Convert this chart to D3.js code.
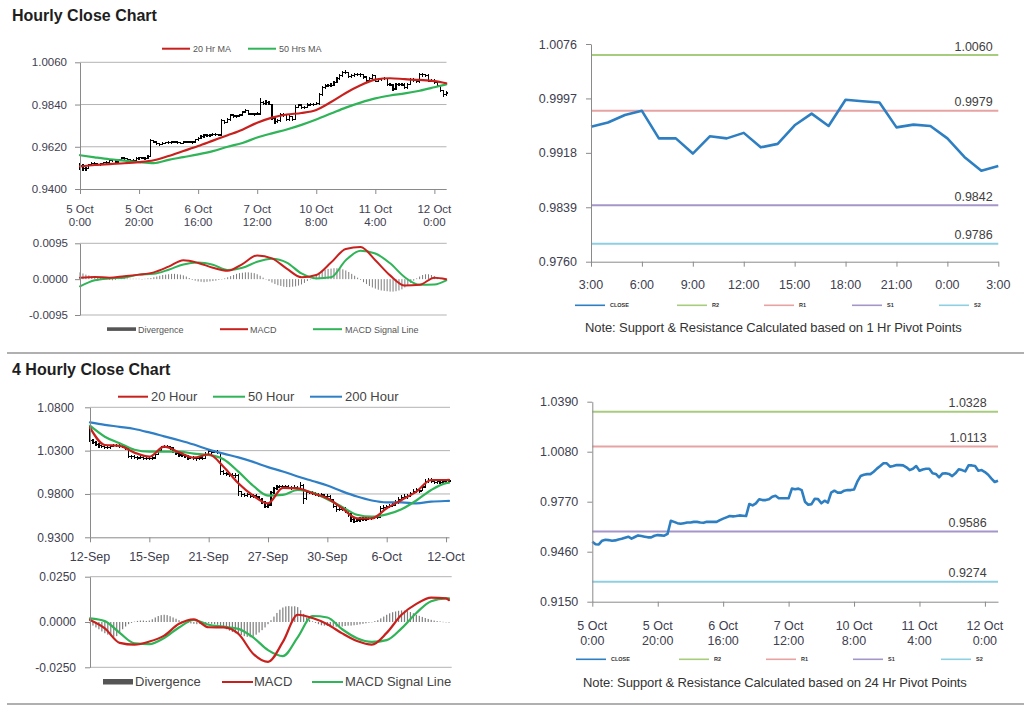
<!DOCTYPE html>
<html>
<head>
<meta charset="utf-8">
<title>Hourly Close Chart</title>
<script src="https://cdn.jsdelivr.net/npm/d3@7/dist/d3.min.js"></script>
<style>
html,body{margin:0;padding:0;background:#fff;}
svg{display:block;}
</style>
</head>
<body>
<svg id="chart" width="1024" height="706"></svg>
<script>
// ===================== DATA =====================
// Hourly chart (5 Oct 0:00 -> 12 Oct ~4:00), 125 hourly bars
const hourTickIdx = [0, 20, 40, 60, 80, 100, 120];
const hourTickDates = ["5 Oct", "5 Oct", "6 Oct", "7 Oct", "10 Oct", "11 Oct", "12 Oct"];
const hourTickTimes = ["0:00", "20:00", "16:00", "12:00", "8:00", "4:00", "0:00"];
const hourClose = [
 0.9522,0.9506,0.9505,0.9528,0.9534,0.9532,0.9528,0.9530,0.9536,0.9540,
 0.9547,0.9553,0.9541,0.9551,0.9561,0.9557,0.9553,0.9549,0.9549,0.9559,
 0.9563,0.9561,0.9559,0.9570,0.9652,0.9645,0.9637,0.9633,0.9637,0.9641,
 0.9641,0.9645,0.9645,0.9641,0.9639,0.9645,0.9645,0.9645,0.9645,0.9656,
 0.9665,0.9673,0.9681,0.9679,0.9681,0.9685,0.9683,0.9681,0.9756,0.9747,
 0.9760,0.9785,0.9780,0.9780,0.9785,0.9801,0.9807,0.9791,0.9791,0.9791,
 0.9791,0.9851,0.9847,0.9851,0.9842,0.9770,0.9751,0.9755,0.9788,0.9786,
 0.9760,0.9776,0.9764,0.9826,0.9838,0.9826,0.9826,0.9838,0.9842,0.9842,
 0.9846,0.9894,0.9929,0.9937,0.9941,0.9941,0.9956,0.9975,0.9991,1.0008,
 1.0008,0.9987,0.9991,0.9997,0.9997,0.9995,0.9983,0.9966,0.9974,0.9991,
 0.9962,0.9970,0.9974,0.9974,0.9946,0.9942,0.9921,0.9944,0.9946,0.9942,
 0.9929,0.9946,0.9971,0.9966,0.9958,0.9995,0.9995,0.9991,0.9962,0.9966,
 0.9954,0.9937,0.9913,0.9892,0.9900];
const hourHigh = [
 0.9535,0.9528,0.9515,0.9532,0.9540,0.9540,0.9538,0.9537,0.9542,0.9546,
 0.9552,0.9558,0.9557,0.9556,0.9566,0.9565,0.9560,0.9557,0.9555,0.9565,
 0.9568,0.9568,0.9565,0.9576,0.9660,0.9656,0.9648,0.9640,0.9643,0.9647,
 0.9648,0.9650,0.9652,0.9650,0.9646,0.9650,0.9652,0.9651,0.9652,0.9662,
 0.9672,0.9680,0.9688,0.9687,0.9688,0.9692,0.9690,0.9688,0.9765,0.9762,
 0.9768,0.9792,0.9790,0.9788,0.9792,0.9808,0.9815,0.9810,0.9798,0.9798,
 0.9800,0.9872,0.9860,0.9862,0.9858,0.9845,0.9780,0.9765,0.9798,0.9795,
 0.9790,0.9785,0.9782,0.9835,0.9845,0.9844,0.9834,0.9846,0.9850,0.9850,
 0.9854,0.9902,0.9936,0.9945,0.9948,0.9950,0.9964,0.9982,0.9998,1.0016,
 1.0018,1.0012,0.9998,1.0004,1.0005,1.0003,0.9998,0.9990,0.9982,0.9998,
 0.9995,0.9977,0.9980,0.9982,0.9980,0.9952,0.9948,0.9952,0.9954,0.9952,
 0.9950,0.9954,0.9980,0.9978,0.9970,1.0004,1.0004,1.0000,0.9998,0.9974,
 0.9972,0.9960,0.9942,0.9918,0.9908];
const hourLow = [
 0.9500,0.9495,0.9493,0.9502,0.9520,0.9522,0.9518,0.9520,0.9524,0.9530,
 0.9536,0.9542,0.9535,0.9538,0.9546,0.9550,0.9545,0.9542,0.9542,0.9545,
 0.9552,0.9554,0.9552,0.9555,0.9565,0.9638,0.9630,0.9626,0.9628,0.9632,
 0.9634,0.9636,0.9638,0.9635,0.9632,0.9635,0.9638,0.9638,0.9637,0.9642,
 0.9650,0.9660,0.9668,0.9672,0.9672,0.9675,0.9675,0.9674,0.9678,0.9740,
 0.9742,0.9755,0.9772,0.9772,0.9775,0.9780,0.9795,0.9785,0.9783,0.9782,
 0.9783,0.9788,0.9838,0.9840,0.9835,0.9762,0.9740,0.9745,0.9750,0.9776,
 0.9752,0.9755,0.9756,0.9760,0.9820,0.9818,0.9818,0.9820,0.9830,0.9834,
 0.9836,0.9840,0.9885,0.9922,0.9930,0.9932,0.9935,0.9950,0.9968,0.9985,
 0.9998,0.9980,0.9980,0.9985,0.9988,0.9986,0.9975,0.9958,0.9960,0.9968,
 0.9955,0.9956,0.9964,0.9966,0.9938,0.9934,0.9912,0.9916,0.9936,0.9934,
 0.9920,0.9922,0.9940,0.9958,0.9950,0.9952,0.9986,0.9984,0.9955,0.9955,
 0.9946,0.9930,0.9905,0.9878,0.9885];
// moving averages / MACD sampled at these bar indices
const hourSampleIdx = [0,5,10,15,20,25,30,35,40,45,50,55,60,65,70,75,80,85,90,95,100,105,110,115,120,124];
const hourMA20 = [0.9518,0.9525,0.9530,0.9534,0.9540,0.9550,0.9572,0.9598,0.9624,0.9652,0.9680,0.9709,0.9745,0.9772,0.9788,0.9796,0.9812,0.9853,0.9900,0.9940,0.9970,0.9977,0.9972,0.9968,0.9962,0.9951];
const hourMA50 = [0.9576,0.9565,0.9555,0.9548,0.9540,0.9535,0.9552,0.9566,0.9580,0.9597,0.9620,0.9640,0.9668,0.9690,0.9710,0.9734,0.9762,0.9793,0.9824,0.9850,0.9872,0.9887,0.9898,0.9912,0.9930,0.9945];
const hourMACD = [0.0004,0.0006,0.0004,0.0008,0.0012,0.0018,0.0033,0.0050,0.0043,0.0030,0.0022,0.0040,0.0063,0.0055,0.0028,0.0005,0.0011,0.0044,0.0080,0.0085,0.0050,0.0010,-0.0017,-0.0015,0.0004,0.0000];
const hourSignal = [-0.0019,-0.0003,0.0002,0.0004,0.0012,0.0014,0.0025,0.0039,0.0044,0.0038,0.0024,0.0030,0.0046,0.0054,0.0044,0.0015,0.0002,0.0005,0.0050,0.0075,0.0068,0.0042,0.0005,-0.0015,-0.0014,-0.0003];
const hourDivergence = [
 0.0018,0.0015,0.0012,0.0010,0.0008,0.0006,0.0005,0.0004,0.0003,0.0002,
 -0.0002,-0.0003,-0.0002,0.0001,0.0002,0.0002,0.0002,0.0001,0.0001,0.0001,
 0.0001,0.0000,0.0001,0.0002,0.0003,0.0005,0.0007,0.0009,0.0011,0.0012,
 0.0013,0.0014,0.0014,0.0013,0.0012,0.0010,0.0007,0.0003,-0.0002,-0.0004,
 -0.0006,-0.0007,-0.0008,-0.0007,-0.0006,-0.0005,-0.0004,-0.0002,0.0000,0.0002,
 0.0005,0.0008,0.0011,0.0014,0.0016,0.0017,0.0018,0.0018,0.0017,0.0016,
 0.0013,0.0009,0.0004,-0.0001,-0.0005,-0.0009,-0.0013,-0.0016,-0.0018,-0.0020,
 -0.0021,-0.0021,-0.0020,-0.0019,-0.0017,-0.0014,-0.0010,-0.0005,0.0000,0.0006,
 0.0012,0.0018,0.0022,0.0025,0.0027,0.0028,0.0029,0.0029,0.0028,0.0026,
 0.0023,0.0019,0.0014,0.0009,0.0004,-0.0002,-0.0008,-0.0013,-0.0018,-0.0022,
 -0.0025,-0.0028,-0.0030,-0.0031,-0.0032,-0.0033,-0.0033,-0.0032,-0.0030,-0.0027,
 -0.0022,-0.0016,-0.0010,-0.0004,0.0002,0.0007,0.0011,0.0013,0.0013,0.0011,
 0.0008,0.0005,0.0003,0.0001,0.0000];

// 1 Hr pivot chart (last 24 hours)
const pivot1Times = ["3:00","6:00","9:00","12:00","15:00","18:00","21:00","0:00","3:00"];
const pivot1Close = [0.9956,0.9962,0.9973,0.9979,0.9939,0.9939,0.9917,0.9942,0.9939,0.9947,0.9926,0.9931,0.9958,0.9975,0.9957,0.9995,0.9993,0.9991,0.9955,0.9959,0.9957,0.9939,0.9912,0.9892,0.9899];
const pivot1Ticks = [0.9760, 0.9839, 0.9918, 0.9997, 1.0076];
const levelNames = ["R2", "R1", "S1", "S2"];
const pivot1Levels = [1.0060, 0.9979, 0.9842, 0.9786];
const legendNames = ["CLOSE", "R2", "R1", "S1", "S2"];

// 4 Hourly chart (12 Sep -> 12 Oct), 122 bars
const fourTickIdx = [0, 20, 40, 60, 80, 100, 120];
const fourTickLabels = ["12-Sep", "15-Sep", "21-Sep", "27-Sep", "30-Sep", "6-Oct", "12-Oct"];
const fourClose = [
 1.0420,1.0395,1.0370,1.0355,1.0345,1.0340,1.0335,1.0350,1.0360,1.0358,
 1.0352,1.0345,1.0330,1.0235,1.0230,1.0222,1.0215,1.0225,1.0212,1.0208,
 1.0212,1.0215,1.0255,1.0300,1.0335,1.0350,1.0345,1.0330,1.0290,1.0265,
 1.0250,1.0245,1.0235,1.0215,1.0220,1.0210,1.0205,1.0215,1.0212,1.0260,
 1.0290,1.0285,1.0292,1.0280,1.0060,1.0035,1.0030,1.0020,1.0012,1.0015,
 0.9825,0.9796,0.9785,0.9790,0.9770,0.9780,0.9765,0.9735,0.9700,0.9660,
 0.9672,0.9820,0.9860,0.9880,0.9888,0.9885,0.9880,0.9875,0.9870,0.9876,
 0.9865,0.9900,0.9750,0.9815,0.9820,0.9805,0.9795,0.9785,0.9788,0.9765,
 0.9770,0.9730,0.9660,0.9620,0.9622,0.9630,0.9605,0.9565,0.9505,0.9485,
 0.9500,0.9505,0.9512,0.9508,0.9520,0.9525,0.9530,0.9535,0.9630,0.9645,
 0.9650,0.9660,0.9670,0.9700,0.9740,0.9760,0.9775,0.9770,0.9800,0.9830,
 0.9845,0.9835,0.9880,0.9940,0.9955,0.9950,0.9935,0.9940,0.9930,0.9945,
 0.9935,0.9950];
const fourHigh = [
 1.0596,1.0440,1.0410,1.0385,1.0370,1.0365,1.0360,1.0368,1.0378,1.0380,
 1.0372,1.0368,1.0360,1.0340,1.0255,1.0248,1.0240,1.0245,1.0240,1.0232,
 1.0235,1.0240,1.0275,1.0318,1.0352,1.0370,1.0365,1.0355,1.0340,1.0300,
 1.0280,1.0268,1.0260,1.0245,1.0242,1.0235,1.0230,1.0238,1.0235,1.0280,
 1.0310,1.0305,1.0312,1.0305,1.0290,1.0080,1.0055,1.0048,1.0040,1.0038,
 1.0025,0.9840,0.9815,0.9815,0.9808,0.9805,0.9800,0.9780,0.9750,0.9715,
 0.9700,0.9840,0.9880,0.9900,0.9905,0.9905,0.9902,0.9898,0.9895,0.9898,
 0.9895,0.9935,0.9910,0.9835,0.9840,0.9835,0.9825,0.9815,0.9810,0.9800,
 0.9795,0.9785,0.9740,0.9680,0.9650,0.9655,0.9645,0.9615,0.9575,0.9520,
 0.9525,0.9530,0.9535,0.9535,0.9545,0.9548,0.9550,0.9555,0.9660,0.9668,
 0.9672,0.9685,0.9695,0.9725,0.9765,0.9785,0.9800,0.9800,0.9825,0.9855,
 0.9870,0.9865,0.9900,0.9975,0.9985,0.9980,0.9965,0.9965,0.9958,0.9970,
 0.9962,0.9975];
const fourLow = [
 1.0400,1.0375,1.0355,1.0335,1.0325,1.0320,1.0318,1.0322,1.0338,1.0340,
 1.0335,1.0330,1.0310,1.0210,1.0205,1.0200,1.0195,1.0200,1.0192,1.0188,
 1.0190,1.0195,1.0205,1.0245,1.0290,1.0325,1.0325,1.0310,1.0270,1.0245,
 1.0232,1.0228,1.0215,1.0190,1.0200,1.0192,1.0185,1.0195,1.0195,1.0205,
 1.0255,1.0265,1.0270,1.0262,1.0020,1.0015,1.0010,1.0000,0.9995,0.9990,
 0.9775,0.9770,0.9765,0.9765,0.9750,0.9755,0.9745,0.9715,0.9680,0.9635,
 0.9640,0.9660,0.9800,0.9850,0.9865,0.9862,0.9860,0.9855,0.9850,0.9852,
 0.9845,0.9850,0.9690,0.9735,0.9800,0.9785,0.9775,0.9765,0.9765,0.9745,
 0.9745,0.9710,0.9640,0.9595,0.9600,0.9605,0.9585,0.9540,0.9480,0.9462,
 0.9475,0.9480,0.9490,0.9485,0.9498,0.9505,0.9510,0.9515,0.9525,0.9615,
 0.9625,0.9635,0.9645,0.9660,0.9690,0.9730,0.9748,0.9745,0.9760,0.9795,
 0.9815,0.9810,0.9830,0.9870,0.9930,0.9925,0.9915,0.9915,0.9910,0.9920,
 0.9915,0.9925];
const fourSampleIdx = [0,5,10,15,20,25,30,35,40,45,50,55,60,65,70,75,80,85,90,95,100,105,110,115,120,121];
const four20 = [1.0565,1.0365,1.0355,1.0277,1.0230,1.0346,1.0281,1.0219,1.0258,1.0115,0.9923,0.9780,0.9692,0.9870,0.9865,0.9808,0.9750,0.9635,0.9519,0.9519,0.9635,0.9731,0.9827,0.9961,0.9961,0.9962];
const four50 = [1.0588,1.0461,1.0385,1.0310,1.0288,1.0288,1.0288,1.0265,1.0250,1.0200,1.0057,0.9895,0.9782,0.9790,0.9846,0.9815,0.9740,0.9650,0.9560,0.9538,0.9565,0.9625,0.9725,0.9846,0.9925,0.9930];
const four200 = [1.0627,1.0598,1.0575,1.0550,1.0510,1.0465,1.0420,1.0370,1.0312,1.0265,1.0222,1.0170,1.0110,1.0060,1.0002,0.9950,0.9898,0.9830,0.9770,0.9725,0.9704,0.9704,0.9692,0.9711,0.9719,0.9720];
const fourMACD = [0.0011,-0.0035,-0.0115,-0.0125,-0.0108,-0.0075,-0.0010,0.0015,-0.0029,-0.0030,-0.0065,-0.0175,-0.0220,-0.0110,0.0040,0.0022,-0.0012,-0.0063,-0.0105,-0.0125,-0.0060,0.0040,0.0100,0.0135,0.0130,0.0121];
const fourSignal = [0.0020,0.0005,-0.0060,-0.0118,-0.0122,-0.0088,-0.0030,0.0011,-0.0015,-0.0026,-0.0038,-0.0085,-0.0155,-0.0188,-0.0085,0.0033,0.0025,-0.0040,-0.0090,-0.0110,-0.0100,-0.0035,0.0050,0.0115,0.0130,0.0130];
const fourDivergence = [
 -0.0008,-0.0020,-0.0030,-0.0040,-0.0052,-0.0062,-0.0070,-0.0078,-0.0082,-0.0078,
 -0.0060,-0.0040,-0.0025,-0.0012,-0.0005,0.0002,0.0006,0.0008,0.0008,0.0006,
 0.0008,0.0015,0.0025,0.0033,0.0038,0.0040,0.0038,0.0032,0.0025,0.0018,
 0.0010,0.0004,0.0000,-0.0005,-0.0008,-0.0010,-0.0012,-0.0010,-0.0008,-0.0006,
 -0.0008,-0.0010,-0.0012,-0.0015,-0.0022,-0.0030,-0.0040,-0.0048,-0.0055,-0.0062,
 -0.0068,-0.0072,-0.0078,-0.0082,-0.0084,-0.0080,-0.0070,-0.0058,-0.0045,-0.0030,
 -0.0012,0.0010,0.0030,0.0050,0.0068,0.0080,0.0086,0.0088,0.0086,0.0087,
 0.0082,0.0065,0.0045,0.0025,0.0012,0.0004,-0.0005,-0.0012,-0.0018,-0.0020,
 -0.0022,-0.0025,-0.0025,-0.0026,-0.0024,-0.0025,-0.0022,-0.0020,-0.0020,-0.0018,
 -0.0016,-0.0013,-0.0010,-0.0007,-0.0004,0.0000,0.0005,0.0010,0.0020,0.0030,
 0.0040,0.0048,0.0054,0.0058,0.0062,0.0064,0.0063,0.0060,0.0055,0.0048,
 0.0040,0.0034,0.0028,0.0022,0.0017,0.0012,0.0008,0.0005,0.0003,0.0001,
 -0.0002,-0.0003];

// 24 Hr pivot chart uses the hourly close series
const pivot24Ticks = [0.9150, 0.9460, 0.9770, 1.0080, 1.0390];
const pivot24Levels = [1.0328, 1.0113, 0.9586, 0.9274];

// ===================== DRAWING =====================
const FONT = "Arial, 'Liberation Sans', Helvetica, sans-serif";
const LBL = "#40404f";
const GRID = "#b3b3b3";
const AXIS = "#8a8a8a";
const RED = "#c8211d", GREEN = "#2fb457", BLUE = "#2f7fc6";
const CLOSEBLUE = "#2e7fc2";
const LEVELCOL = ["#a8cc7d", "#e6a3a1", "#a596c9", "#8fcfe2"];
const LEGCOL = [CLOSEBLUE].concat(LEVELCOL);

const svg = d3.select("#chart").attr("font-family", FONT);

function addText(x, y, str, o = {}) {
  return svg.append("text").attr("x", x).attr("y", y).text(str)
    .attr("font-size", o.size || 12).attr("fill", o.fill || LBL)
    .attr("text-anchor", o.anchor || "start")
    .attr("font-weight", o.weight || "normal")
    .attr("letter-spacing", o.ls || null);
}
function hline(x1, x2, y, color, w) {
  return svg.append("line").attr("x1", x1).attr("x2", x2).attr("y1", y).attr("y2", y)
    .attr("stroke", color).attr("stroke-width", w);
}
function yAxis(xPos, y, ticks, size, pad) {
  const g = svg.append("g").attr("transform", `translate(${xPos},0)`)
    .call(d3.axisLeft(y).tickValues(ticks).tickSize(5).tickSizeOuter(0).tickPadding(pad)
      .tickFormat(d => d.toFixed(4)));
  g.attr("font-family", FONT).attr("font-size", size);
  g.select(".domain").attr("stroke", AXIS);
  g.selectAll(".tick line").attr("stroke", AXIS);
  g.selectAll(".tick text").attr("fill", LBL);
  return g;
}
function xAxis(yPos, x, idx) {
  const g = svg.append("g").attr("transform", `translate(0,${yPos})`)
    .call(d3.axisBottom(x).tickValues(idx).tickSize(5).tickSizeOuter(0).tickFormat(""));
  g.select(".domain").attr("stroke", AXIS);
  g.selectAll(".tick line").attr("stroke", AXIS);
  return g;
}
function sampledLine(x, y, idx, vals, color, w) {
  const pts = vals.map((v, k) => [idx[k], v]);
  svg.append("path").datum(pts)
    .attr("d", d3.line().x(d => x(d[0])).y(d => y(d[1])).curve(d3.curveMonotoneX))
    .attr("fill", "none").attr("stroke", color).attr("stroke-width", w)
    .attr("stroke-linejoin", "round").attr("stroke-linecap", "round");
}
function ohlcBars(x, y, close, high, low) {
  const g = svg.append("g").attr("stroke", "#000").attr("stroke-width", 1.2)
    .attr("shape-rendering", "crispEdges");
  const data = close.map((c, i) => ({ i, c, o: i === 0 ? c : close[i - 1], h: high[i], l: low[i] }));
  g.selectAll("line.hl").data(data).join("line").attr("class", "hl")
    .attr("x1", d => x(d.i)).attr("x2", d => x(d.i)).attr("y1", d => y(d.h)).attr("y2", d => y(d.l));
  g.selectAll("line.op").data(data).join("line").attr("class", "op")
    .attr("x1", d => x(d.i) - 1.5).attr("x2", d => x(d.i)).attr("y1", d => y(d.o)).attr("y2", d => y(d.o));
  g.selectAll("line.cl").data(data).join("line").attr("class", "cl")
    .attr("x1", d => x(d.i)).attr("x2", d => x(d.i) + 1.5).attr("y1", d => y(d.c)).attr("y2", d => y(d.c));
}
function divergenceBars(x, y, vals, w) {
  svg.append("g").selectAll("rect").data(vals).join("rect")
    .attr("x", (d, i) => x(i) - w / 2).attr("width", w)
    .attr("y", d => Math.min(y(d), y(0))).attr("height", d => Math.max(0.4, Math.abs(y(d) - y(0))))
    .attr("fill", "#7d7d7d");
}

// ---------- Titles & separators ----------
addText(12, 21, "Hourly Close Chart", { size: 16, weight: "bold", fill: "#1e1e1e" });
addText(12, 375, "4 Hourly Close Chart", { size: 16, weight: "bold", fill: "#1e1e1e" });
hline(7, 1024, 353, "#b0b0b0", 2);
hline(7, 1024, 704, "#b0b0b0", 2);

// ---------- Top-left: hourly price ----------
{
  const x = d3.scaleLinear().domain([0, 124]).range([80, 446.2]);
  const y = d3.scaleLinear().domain([0.94, 1.006]).range([189, 62.3]);
  [0.962, 0.984, 1.006].forEach(t => hline(80, 446.5, y(t), GRID, 1));
  ohlcBars(x, y, hourClose, hourHigh, hourLow);
  sampledLine(x, y, hourSampleIdx, hourMA50, GREEN, 2.2);
  sampledLine(x, y, hourSampleIdx, hourMA20, RED, 2.2);
  yAxis(80, y, [0.94, 0.962, 0.984, 1.006], 11.5, 8);
  xAxis(189, x, hourTickIdx);
  hourTickIdx.forEach((ti, k) => {
    addText(x(ti), 212.5, hourTickDates[k], { size: 11.5, anchor: "middle" });
    addText(x(ti), 226, hourTickTimes[k], { size: 11.5, anchor: "middle" });
  });
  hline(162, 190, 48.7, RED, 2); addText(193, 52, "20 Hr MA", { size: 9, fill: "#555" });
  hline(248, 276, 48.7, GREEN, 2); addText(279, 52, "50 Hrs MA", { size: 9, fill: "#555" });

  // MACD panel
  const ym = d3.scaleLinear().domain([-0.0095, 0.0095]).range([315, 243.3]);
  hline(80, 446.7, ym(0.0095), GRID, 1);
  hline(80, 446.7, ym(-0.0095), GRID, 1);
  divergenceBars(x, ym, hourDivergence, 1);
  sampledLine(x, ym, hourSampleIdx, hourSignal, GREEN, 2);
  sampledLine(x, ym, hourSampleIdx, hourMACD, RED, 2);
  yAxis(80, ym, [-0.0095, 0, 0.0095], 11.5, 7);
  svg.append("rect").attr("x", 107).attr("y", 327.3).attr("width", 29).attr("height", 3.6).attr("fill", "#555");
  addText(138, 332.5, "Divergence", { size: 9, fill: "#555" });
  hline(220, 248, 329.2, RED, 2); addText(250, 332.5, "MACD", { size: 9, fill: "#555" });
  hline(313, 342, 329.2, GREEN, 2); addText(345, 332.5, "MACD Signal Line", { size: 9, fill: "#555" });
}

// ---------- Pivot chart helper ----------
function pivotChart(o) {
  const y = d3.scaleLinear().domain([o.ticks[0], o.ticks[o.ticks.length - 1]]).range([o.yBot, o.yTop]);
  o.levels.forEach((v, k) => {
    hline(o.x.range()[0], o.x.range()[1], y(v), LEVELCOL[k], 2);
    addText(o.labelRight, y(v) - 4.5, v.toFixed(4), { size: 12.5, anchor: "end", fill: "#404040" });
  });
  svg.append("path").datum(o.close)
    .attr("d", d3.line().x((d, i) => o.x(i)).y(d => y(d)))
    .attr("fill", "none").attr("stroke", CLOSEBLUE).attr("stroke-width", 2.6)
    .attr("stroke-linejoin", "round");
  yAxis(o.x.range()[0], y, o.ticks, 12.5, 9);
  xAxis(o.yBot, o.x, o.xIdx);
  o.legendX.forEach((lx, k) => {
    hline(lx, lx + 30, o.legendY, LEGCOL[k], 1.6);
    addText(lx + 35, o.legendY + 2, legendNames[k], { size: 5.5, weight: "bold", fill: "#333" });
  });
  addText(o.noteX, o.noteY, o.note, { size: 13, fill: "#333", ls: -0.1 });
}

// ---------- Top-right: 1 Hr pivots ----------
{
  const x = d3.scaleLinear().domain([0, 24]).range([591, 998.3]);
  const idx = pivot1Times.map((t, k) => k * 3);
  pivotChart({
    x, yTop: 44, yBot: 261.7, ticks: pivot1Ticks, levels: pivot1Levels, close: pivot1Close,
    labelRight: 992.7, xIdx: idx, legendX: [575, 677, 764, 852, 939], legendY: 305.3,
    note: "Note: Support & Resistance Calculated based on 1 Hr Pivot Points", noteX: 585, noteY: 331.5
  });
  idx.forEach((ti, k) => addText(x(ti), 289, pivot1Times[k], { size: 12.5, anchor: "middle" }));
}

// ---------- Bottom-right: 24 Hr pivots ----------
{
  const x = d3.scaleLinear().domain([0, 124]).range([592.3, 998]);
  pivotChart({
    x, yTop: 401.7, yBot: 601.7, ticks: pivot24Ticks, levels: pivot24Levels, close: hourClose,
    labelRight: 986.7, xIdx: hourTickIdx, legendX: [576, 679, 766, 853, 941], legendY: 659.3,
    note: "Note: Support & Resistance Calculated based on 24 Hr Pivot Points", noteX: 583, noteY: 686.5
  });
  hourTickIdx.forEach((ti, k) => {
    addText(x(ti), 630, hourTickDates[k], { size: 12.5, anchor: "middle" });
    addText(x(ti), 645, hourTickTimes[k], { size: 12.5, anchor: "middle" });
  });
}

// ---------- Bottom-left: 4 hourly price ----------
{
  const x = d3.scaleLinear().domain([0, 121]).range([90, 449]);
  const y = d3.scaleLinear().domain([0.93, 1.08]).range([537.3, 407.3]);
  [0.98, 1.03, 1.08].forEach(t => hline(90, 450, y(t), GRID, 1));
  ohlcBars(x, y, fourClose, fourHigh, fourLow);
  sampledLine(x, y, fourSampleIdx, four200, BLUE, 2.2);
  sampledLine(x, y, fourSampleIdx, four50, GREEN, 2.2);
  sampledLine(x, y, fourSampleIdx, four20, RED, 2.2);
  yAxis(90, y, [0.93, 0.98, 1.03, 1.08], 12, 11);
  xAxis(537.3, x, fourTickIdx);
  fourTickIdx.forEach((ti, k) => addText(x(ti), 561, fourTickLabels[k], { size: 12.5, anchor: "middle" }));
  hline(118, 148, 396.7, RED, 2); addText(151, 401, "20 Hour", { size: 13, fill: "#444" });
  hline(213, 245, 396.7, GREEN, 2); addText(248, 401, "50 Hour", { size: 13, fill: "#444" });
  hline(310, 342, 396.7, BLUE, 2); addText(345, 401, "200 Hour", { size: 13, fill: "#444" });

  const ym = d3.scaleLinear().domain([-0.025, 0.025]).range([667.3, 576.7]);
  hline(90, 451.7, ym(0.025), GRID, 1);
  hline(90, 451.7, ym(-0.025), GRID, 1);
  divergenceBars(x, ym, fourDivergence, 1.2);
  sampledLine(x, ym, fourSampleIdx, fourSignal, GREEN, 2.2);
  sampledLine(x, ym, fourSampleIdx, fourMACD, RED, 2.2);
  yAxis(90, ym, [-0.025, 0, 0.025], 12, 9);
  svg.append("rect").attr("x", 103).attr("y", 679).attr("width", 30).attr("height", 5.5).attr("fill", "#555");
  addText(135, 686, "Divergence", { size: 13, fill: "#444" });
  hline(222, 253, 682, RED, 2); addText(254, 686, "MACD", { size: 13, fill: "#444" });
  hline(312, 343, 682, GREEN, 2); addText(345, 686, "MACD Signal Line", { size: 13, fill: "#444" });
}
</script>
</body>
</html>
